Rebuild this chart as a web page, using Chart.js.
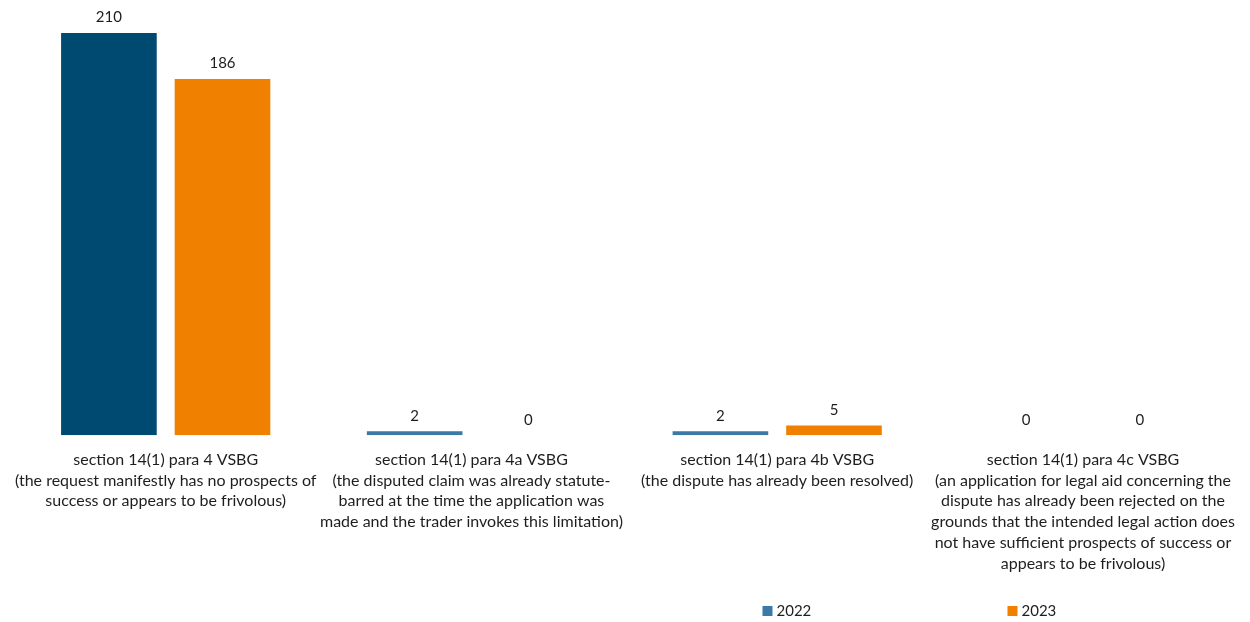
<!DOCTYPE html>
<html>
<head>
<meta charset="utf-8">
<script src="https://cdn.jsdelivr.net/npm/chart.js@4"></script>
<style>
  html, body { margin: 0; padding: 0; background: #ffffff; }
  #wrap { width: 1250px; height: 622px; position: relative; }
</style>
</head>
<body>
<div id="wrap"><canvas id="c"></canvas></div>
<script>
// Grounds for refusal under section 14(1) VSBG, 2022 vs 2023
const categories = [
  ['section 14(1) para 4 VSBG', '(the request manifestly has no prospects of', 'success or appears to be frivolous)'],
  ['section 14(1) para 4a VSBG', '(the disputed claim was already statute-', 'barred at the time the application was', 'made and the trader invokes this limitation)'],
  ['section 14(1) para 4b VSBG', '(the dispute has already been resolved)'],
  ['section 14(1) para 4c VSBG', '(an application for legal aid concerning the', 'dispute has already been rejected on the', 'grounds that the intended legal action does', 'not have sufficient prospects of success or', 'appears to be frivolous)']
];
const seriesLabels = ['2022', '2023'];
const values2022 = [210, 2, 2, 0];
const values2023 = [186, 0, 5, 0];

const FONT = 'Lato, "Noto Sans", sans-serif';
const TEXT = '#1e1e1e';

// value labels above each bar, taken from the bar elements
const valueLabels = {
  id: 'valueLabels',
  afterDatasetsDraw(chart) {
    const ctx = chart.ctx;
    ctx.save();
    ctx.font = '15px ' + FONT;
    ctx.fillStyle = TEXT;
    ctx.textAlign = 'center';
    ctx.textBaseline = 'bottom';
    chart.data.datasets.forEach((ds, di) => {
      chart.getDatasetMeta(di).data.forEach((bar, i) => {
        ctx.fillText(String(ds.data[i]), bar.x, bar.y - 8);
      });
    });
    ctx.restore();
  }
};

// legend row along the bottom
const bottomLegend = {
  id: 'bottomLegend',
  afterDraw(chart) {
    const ctx = chart.ctx;
    const w = chart.width;
    const y = chart.height - 11;
    const xs = [w * 0.610, w * 0.806];
    ctx.save();
    ctx.font = '15px ' + FONT;
    ctx.textBaseline = 'middle';
    ctx.textAlign = 'left';
    chart.data.datasets.forEach((ds, di) => {
      const x = xs[di];
      ctx.fillStyle = ds.legendColor;
      ctx.fillRect(x, y - 5, 10, 10);
      ctx.fillStyle = TEXT;
      ctx.fillText(ds.label, x + 14, y);
    });
    ctx.restore();
  }
};

new Chart(document.getElementById('c'), {
  type: 'bar',
  data: {
    labels: categories,
    datasets: [
      {
        label: seriesLabels[0],
        data: values2022,
        backgroundColor: ['#004a72', '#3c79a6', '#3c79a6', '#3c79a6'],
        legendColor: '#3c79a6'
      },
      {
        label: seriesLabels[1],
        data: values2023,
        backgroundColor: '#f08100',
        legendColor: '#f08100'
      }
    ]
  },
  options: {
    responsive: true,
    maintainAspectRatio: false,
    animation: false,
    layout: { padding: { top: 33, left: 12, right: 10, bottom: 34 } },
    datasets: {
      bar: { categoryPercentage: 0.743, barPercentage: 0.842 }
    },
    plugins: {
      legend: { display: false },
      tooltip: { enabled: false }
    },
    scales: {
      x: {
        grid: { display: false, drawTicks: false },
        border: { display: false },
        ticks: {
          autoSkip: false,
          maxRotation: 0,
          padding: 14,
          color: TEXT,
          font: { family: FONT, size: 16, lineHeight: 1.3 }
        }
      },
      y: {
        display: false,
        min: 0,
        max: 210
      }
    }
  },
  plugins: [valueLabels, bottomLegend]
});
</script>
</body>
</html>
